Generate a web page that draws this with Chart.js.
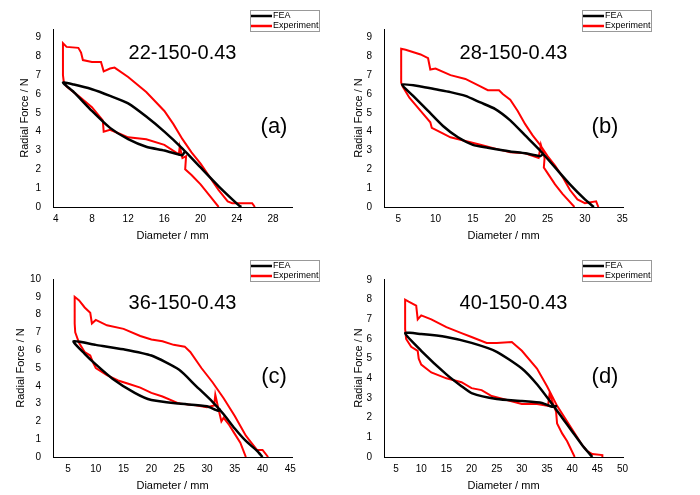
<!DOCTYPE html>
<html>
<head>
<meta charset="utf-8">
<script src="https://cdn.jsdelivr.net/npm/chart.js@4"></script>
<style>
body { margin:0; background:#fff; width:700px; height:495px; position:relative; overflow:hidden; }
.box { position:absolute; width:350px; height:245px; }
</style>
</head>
<body>
<div class="box" style="left:0;top:0"><canvas id="ca"></canvas></div>
<div class="box" style="left:345px;top:0"><canvas id="cb"></canvas></div>
<div class="box" style="left:0;top:250px"><canvas id="cc"></canvas></div>
<div class="box" style="left:345px;top:250px"><canvas id="cd"></canvas></div>
<script>
// data: [diameter mm, radial force N]
const feaA = [[24.5,0],[24.2,0.1],[22,1.1],[20,2.1],[18,3.1],[16,4.0],[14,4.8],[12,5.5],[10,5.9],[8,6.25],[6,6.5],[4.8,6.6],
  [6,6.1],[8,5.1],[10,4.2],[12,3.6],[14,3.2],[16,3.0],[17.5,2.8],[18,2.75],[18.3,3.0]];
const expA = [[22,0],[21,0.6],[20,1.2],[19,1.7],[18.3,2.0],[18.4,2.7],[18.0,2.6],[17.7,3.2],[17.6,2.8],[16,3.3],[14,3.6],[12,3.7],[11,3.9],
  [10,4.1],[9.3,4.0],[9.2,4.6],[8,5.3],[6.5,5.9],[5.2,6.4],[4.9,6.6],[4.8,7.0],[4.8,8.7],[5.2,8.5],[6.5,8.45],[6.8,8.2],[7,7.8],
  [8,7.7],[9,7.7],[9.3,7.2],[10,7.35],[10.5,7.4],[12,6.9],[14,6.1],[16,5.1],[17,4.4],[18,3.6],[19,2.9],[20,2.3],[21,1.6],[22,0.9],
  [23,0.3],[23.5,0.2],[25.7,0.2],[26,0]];
const feaB = [[31.2,0],[30,0.4],[28,1.2],[26,2.1],[24,3.0],[22,3.8],[20,4.6],[18,5.2],[16,5.55],[14,5.9],[12,6.1],[10,6.25],[8,6.4],[5.5,6.5],
  [7,5.9],[9,5.1],[11,4.3],[13,3.7],[15,3.3],[17,3.15],[20,2.95],[22,2.85],[24,2.7],[24.5,2.85]];
const expB = [[28.6,0],[27,0.7],[26,1.2],[25,1.8],[24.5,2.1],[24.6,2.6],[24.1,3.3],[23.8,2.6],[22,2.85],[20,2.9],[18,3.1],[16,3.3],
  [14,3.5],[12,3.7],[10.5,4.0],[9.5,4.2],[9.3,4.5],[8,5.1],[6.5,5.8],[5.6,6.4],[5.4,6.6],[5.4,8.4],[6,8.35],[8,8.1],[9,7.9],[9.3,7.3],
  [10,7.35],[12,7.0],[14,6.8],[16,6.4],[17,6.2],[18.5,6.2],[19,6.0],[20,5.7],[21,5.1],[22,4.4],[23,3.8],[24,3.3],[25,2.7],[26,2.2],
  [27,1.6],[28,0.9],[29,0.4],[30,0.2],[31.5,0.3],[31.8,0]];
const feaC = [[40,0],[39,0.35],[37,0.9],[35,1.6],[33,2.4],[31,3.1],[28,4.0],[25,4.9],[20,5.7],[15,6.05],[10,6.3],[6,6.5],
  [8,5.8],[10,5.2],[13,4.4],[17,3.6],[20,3.2],[25,3.0],[30,2.85],[32,2.6],[32.5,2.7]];
const expC = [[37,0],[36,0.8],[35,1.3],[34,1.8],[33,2.2],[32.6,2.0],[32,2.8],[31.5,3.5],[31.3,2.9],[30,2.8],[28,2.9],[25,3.0],[22,3.4],
  [20,3.6],[18,3.9],[16,4.1],[14,4.3],[12,4.6],[10,5.0],[9.5,5.3],[9,5.7],[8,5.9],[7,6.4],[6.3,7.0],[6.2,7.5],[6.2,9.0],[7,8.8],
  [8,8.4],[9,8.1],[9.3,7.5],[10,7.7],[12,7.4],[15,7.2],[18,6.8],[20,6.6],[22,6.5],[24,6.3],[26,6.2],[27,5.9],[29,5.0],[31,4.2],
  [33,3.3],[35,2.3],[37,1.2],[38,0.8],[39,0.4],[40,0.4],[41,0]];
const feaD = [[44,0],[42,0.6],[40,1.3],[38,2.0],[36,2.7],[33,3.7],[30,4.5],[25,5.35],[20,5.8],[15,6.1],[10,6.25],[6.8,6.3],
  [10,5.4],[15,4.2],[18,3.6],[20,3.25],[25,2.95],[30,2.85],[34,2.75],[36,2.55],[37,2.6]];
const expD = [[40.5,0],[39,0.8],[38,1.2],[37,1.7],[36.8,2.3],[35.5,3.2],[35.2,2.6],[33,2.7],[30,2.7],[27,2.9],[24,3.1],[22,3.4],
  [20,3.5],[18,3.8],[15,4.0],[12,4.3],[10,4.7],[9.5,5.0],[9.3,5.4],[8,5.6],[7,6.0],[6.8,6.5],[6.8,8.0],[7.5,7.9],[9,7.7],[9.3,7.0],
  [10,7.2],[12,7.0],[15,6.6],[18,6.3],[20,6.1],[23,5.8],[25,5.8],[28,5.85],[30,5.4],[33,4.5],[35,3.6],[37,2.6],[39,1.8],[41,1.0],
  [42,0.6],[43,0.3],[44,0.15],[46,0.1],[46,0]];

const titles = ['22-150-0.43', '28-150-0.43', '36-150-0.43', '40-150-0.43'];
const letters = ['(a)', '(b)', '(c)', '(d)'];
const xTicks = [[4,8,12,16,20,24,28], [5,10,15,20,25,30,35], [5,10,15,20,25,30,35,40,45], [5,10,15,20,25,30,35,40,45,50]];
const yTicks = [[0,1,2,3,4,5,6,7,8,9], [0,1,2,3,4,5,6,7,8,9], [0,1,2,3,4,5,6,7,8,9,10], [0,1,2,3,4,5,6,7,8,9]];
const xRange = [[3.7,30.1], [3.1,35.1], [2.3,45.3], [2.6,50.1]];
const yRange = [[0,9.45], [0,9.45], [0,10], [0,9.05]];
const feaSets = [feaA, feaB, feaC, feaD];
const expSets = [expA, expB, expC, expD];

const FONT = 'Liberation Sans, Arial, sans-serif';

const decor = {
    id: 'decor',
    afterDraw(chart, args, o) {
        const ctx = chart.ctx, a = chart.chartArea;
        ctx.save();
        ctx.fillStyle = '#000';
        ctx.textAlign = 'center';
        ctx.textBaseline = 'middle';
        ctx.font = '20px ' + FONT;
        ctx.fillText(o.title, (a.left + a.right) / 2 + 10, a.top + 24);
        ctx.font = '22px ' + FONT;
        ctx.fillText(o.letter, a.right - 18, a.top + 98);
        // legend box
        const lx = o.legX, ly = 10, lw = 69, lh = 21;
        ctx.strokeStyle = '#999';
        ctx.lineWidth = 1;
        ctx.strokeRect(lx + 0.5, ly + 0.5, lw, lh);
        ctx.textAlign = 'left';
        ctx.font = '9px ' + FONT;
        chart.data.datasets.forEach((d, i) => {
            const yy = ly + 6 + i * 10;
            ctx.strokeStyle = d.borderColor;
            ctx.lineWidth = 2.5;
            ctx.beginPath();
            ctx.moveTo(lx + 1, yy);
            ctx.lineTo(lx + 22, yy);
            ctx.stroke();
            ctx.fillText(d.label, lx + 23, yy);
        });
        ctx.restore();
    }
};

function makeChart(id, i, padL, yWidth, padR, legX) {
    const ctx = document.getElementById(id).getContext('2d');
    return new Chart(ctx, {
        type: 'scatter',
        data: {
            datasets: [{
                label: 'FEA',
                data: feaSets[i].map(p => ({x: p[0], y: p[1]})),
                showLine: true, borderColor: '#000', borderWidth: 2.5, pointRadius: 0, tension: 0.2
            }, {
                label: 'Experiment',
                data: expSets[i].map(p => ({x: p[0], y: p[1]})),
                showLine: true, borderColor: '#f00', borderWidth: 2, pointRadius: 0, tension: 0
            }]
        },
        options: {
            responsive: true,
            maintainAspectRatio: false,
            animation: false,
            layout: { padding: { left: padL, right: padR, top: 29, bottom: 0 } },
            plugins: {
                legend: { display: false },
                tooltip: { enabled: false },
                decor: { title: titles[i], letter: letters[i], legX: legX }
            },
            scales: {
                x: {
                    type: 'linear', min: xRange[i][0], max: xRange[i][1],
                    afterBuildTicks: s => { s.ticks = xTicks[i].map(v => ({value: v})); },
                    afterFit: s => { s.height = 38; },
                    grid: { display: false, drawTicks: true, tickLength: 4 },
                    border: { color: '#000', width: 1 },
                    ticks: { color: '#000', font: { family: FONT, size: 10 }, padding: 2, maxRotation: 0 },
                    title: { display: true, text: 'Diameter / mm', color: '#000', font: { family: FONT, size: 11 }, padding: 2 }
                },
                y: {
                    type: 'linear', min: yRange[i][0], max: yRange[i][1],
                    afterBuildTicks: s => { s.ticks = yTicks[i].map(v => ({value: v})); },
                    afterFit: s => { s.width = yWidth; },
                    grid: { display: false },
                    border: { color: '#000', width: 1 },
                    ticks: { color: '#000', font: { family: FONT, size: 10 }, padding: 4 },
                    title: { display: true, text: 'Radial Force / N', color: '#000', font: { family: FONT, size: 11 }, padding: 0 }
                }
            }
        },
        plugins: [decor]
    });
}

makeChart('ca', 0, 18, 35, 58, 250);
makeChart('cb', 1, 7, 32, 72, 237);
makeChart('cc', 2, 14, 39, 58, 250);
makeChart('cd', 3, 7, 32, 72, 237);
</script>
</body>
</html>
